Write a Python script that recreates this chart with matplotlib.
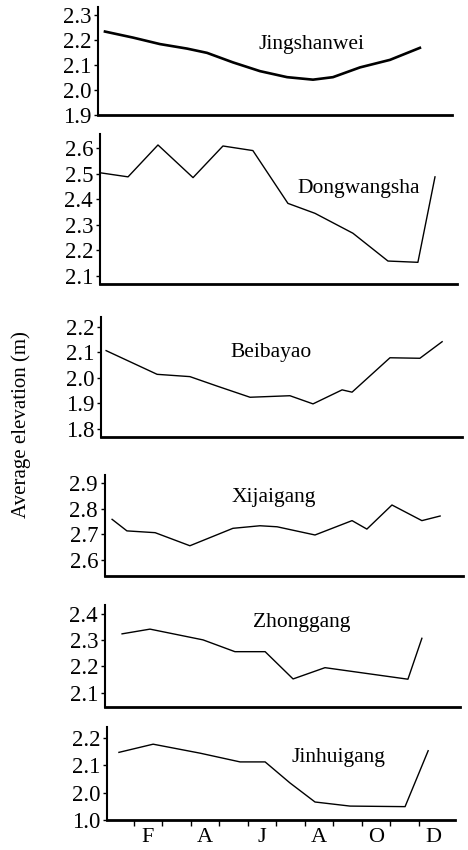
import matplotlib
matplotlib.use('Agg')
import matplotlib.pyplot as plt

plt.rcParams['font.family'] = ['Liberation Serif', 'DejaVu Serif']

W, H = 468, 850

names = ['Jingshanwei', 'Dongwangsha', 'Beibayao', 'Xijaigang', 'Zhonggang', 'Jinhuigang']

jsw_x = [0.49, 1.47, 2.42, 3.37, 4.07, 4.98, 5.93, 6.88, 7.79, 8.49, 9.44, 10.49, 11.54]
jsw_y = [2.233, 2.209, 2.183, 2.165, 2.148, 2.110, 2.075, 2.051, 2.041, 2.051, 2.090, 2.120, 2.168]

dws_x = [0.32, 1.30, 2.35, 3.58, 4.63, 5.68, 6.91, 7.86, 9.19, 10.42, 11.47, 12.07]
dws_y = [2.503, 2.487, 2.612, 2.484, 2.608, 2.590, 2.383, 2.344, 2.266, 2.157, 2.152, 2.487]

bby_x = [0.53, 2.32, 3.47, 4.42, 5.58, 6.98, 7.79, 8.81, 9.16, 10.49, 11.54, 12.32]
bby_y = [2.106, 2.013, 2.004, 1.967, 1.923, 1.929, 1.897, 1.952, 1.943, 2.078, 2.076, 2.141]

xjg_x = [0.74, 1.26, 2.25, 3.47, 4.98, 5.93, 6.53, 7.86, 9.16, 9.68, 10.56, 11.61, 12.25]
xjg_y = [2.759, 2.714, 2.707, 2.656, 2.724, 2.734, 2.730, 2.698, 2.754, 2.721, 2.815, 2.754, 2.772]

zg_x = [1.09, 2.07, 3.93, 5.05, 6.11, 7.09, 8.21, 11.12, 11.61]
zg_y = [2.324, 2.342, 2.301, 2.256, 2.256, 2.152, 2.195, 2.151, 2.307]

jhg_x = [0.98, 2.18, 3.83, 5.23, 6.11, 6.98, 7.86, 9.09, 11.02, 11.83]
jhg_y = [2.148, 2.178, 2.145, 2.113, 2.113, 2.036, 1.966, 1.951, 1.949, 2.154]

series = [(jsw_x, jsw_y), (dws_x, dws_y), (bby_x, bby_y),
          (xjg_x, xjg_y), (zg_x, zg_y), (jhg_x, jhg_y)]

yticks = [[1.9, 2.0, 2.1, 2.2, 2.3],
          [2.1, 2.2, 2.3, 2.4, 2.5, 2.6],
          [1.8, 1.9, 2.0, 2.1, 2.2],
          [2.6, 2.7, 2.8, 2.9],
          [2.1, 2.2, 2.3, 2.4],
          [1.9, 2.0, 2.1, 2.2]]
ytick_labels = [['1.9', '2.0', '2.1', '2.2', '2.3'],
                ['2.1', '2.2', '2.3', '2.4', '2.5', '2.6'],
                ['1.8', '1.9', '2.0', '2.1', '2.2'],
                ['2.6', '2.7', '2.8', '2.9'],
                ['2.1', '2.2', '2.3', '2.4'],
                ['1.0', '2.0', '2.1', '2.2']]

month_pos = [2, 4, 6, 8, 10, 12]
month_labels = ['F', 'A', 'J', 'A', 'O', 'D']

# layout: axes boxes in pixels (left, right, top, bottom), y limits, title spots
boxes = [(98, 452, 7, 115), (100, 457, 134, 284), (101, 462, 317, 437),
         (105, 463, 475, 576), (105, 460, 605, 707), (107, 455, 727, 820)]
ylims = [(1.912, 2.331), (2.067, 2.655), (1.767, 2.238),
         (2.538, 2.932), (2.045, 2.434), (1.903, 2.241)]
title_pos = [(7.75, 2.18), (9.40, 2.443), (6.32, 2.10),
             (6.42, 2.846), (7.40, 2.366), (8.67, 2.128)]
line_w = [1.9, 1.0, 1.0, 1.0, 1.0, 1.0]


def px_to_month(px):
    return 1 + (px - 119.5) / 28.5


fig = plt.figure(figsize=(W / 100, H / 100), dpi=100)

for i in range(6):
    l, r, t, b = boxes[i]
    ax = fig.add_axes([l / W, 1 - b / H, (r - l) / W, (b - t) / H])
    x, y = series[i]
    ax.plot(x, y, color='black', lw=line_w[i], solid_joinstyle='round')
    ax.set_xlim(px_to_month(l), px_to_month(r))
    ax.set_ylim(*ylims[i])
    ax.spines['top'].set_visible(False)
    ax.spines['right'].set_visible(False)
    ax.spines['left'].set_linewidth(1.5)
    ax.spines['bottom'].set_linewidth(2.0)
    ax.set_yticks(yticks[i])
    ax.set_yticklabels(ytick_labels[i])
    ax.tick_params(axis='y', direction='out', length=3, width=1, pad=2, labelsize=16.5)
    ax.text(title_pos[i][0], title_pos[i][1], names[i], fontsize=15.5,
            ha='center', va='center')
    if i == 5:
        ax.set_xticks(month_pos)
        ax.set_xticklabels(month_labels)
        ax.set_xticks([m + 0.5 for m in range(1, 12)], minor=True)
        ax.tick_params(axis='x', which='major', length=0, pad=6, labelsize=16)
        ax.tick_params(axis='x', which='minor', direction='out', length=4, width=1)
    else:
        ax.set_xticks([])

fig.text(21 / W, 1 - 425 / H, 'Average elevation (m)', rotation=90,
         ha='center', va='center', fontsize=15)

plt.savefig('out.png', dpi=100)
